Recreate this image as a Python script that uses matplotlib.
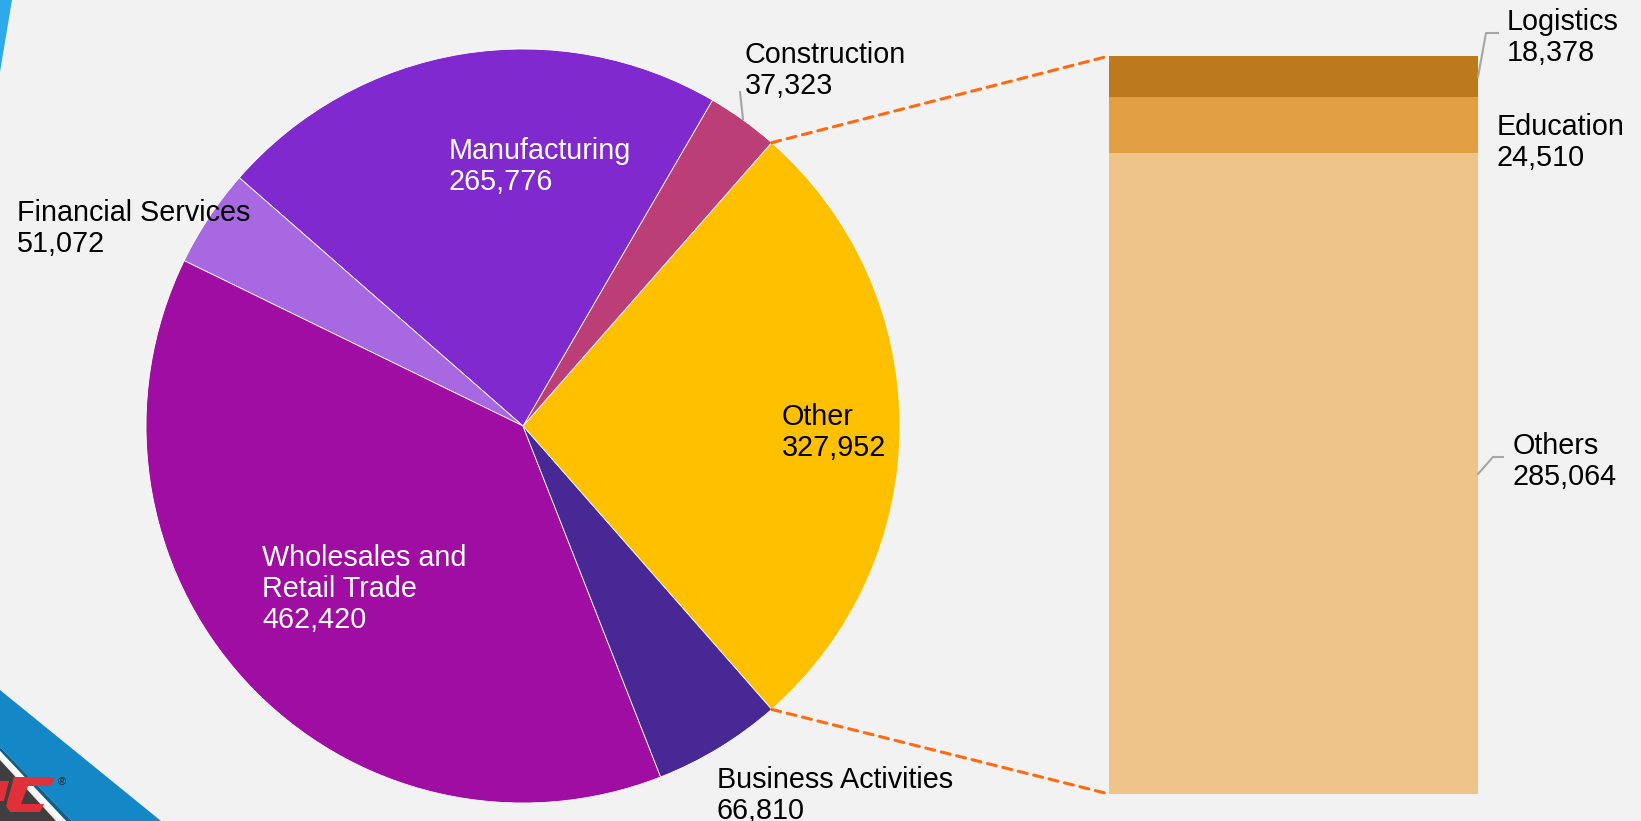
import numpy as np
import matplotlib
matplotlib.use("Agg")
import matplotlib.pyplot as plt
from matplotlib.patches import Polygon, ConnectionPatch

plt.rcParams['font.family'] = ['Liberation Sans', 'DejaVu Sans']

# pie data (counter-clockwise starting with "Other")
pie_labels = ['Other', 'Construction', 'Manufacturing', 'Financial Services',
              'Wholesales and\nRetail Trade', 'Business Activities']
pie_values = [327952, 37323, 265776, 51072, 462420, 66810]
pie_colors = ['#FFC000', '#BB3E76', '#7F29CF', '#A768E2', '#A00DA2', '#472894']

# breakdown of "Other" (bottom to top)
bar_labels = ['Others', 'Education', 'Logistics']
bar_values = [285064, 24510, 18378]
bar_colors = ['#EFC48B', '#E29E42', '#BD7A1C']

W, H = 1641, 821
BG = '#F2F2F2'
fig = plt.figure(figsize=(W / 100, H / 100), dpi=100, facecolor=BG)


def px_box(left, top, right, bottom):
    return [left / W, 1 - bottom / H, (right - left) / W, (bottom - top) / H]


# background decorations
deco = fig.add_axes([0, 0, 1, 1], zorder=0)
deco.set_xlim(0, W)
deco.set_ylim(H, 0)
deco.axis('off')
deco.add_patch(Polygon([(0, 0), (12, 0), (0, 72)], color='#2EAAEA', lw=0))
deco.add_patch(Polygon([(0, 690), (161, 821), (72, 821), (0, 747)], color='#1488C6', lw=0))
deco.add_patch(Polygon([(0, 747), (72, 821), (66, 821), (0, 751)], color='#0E5F8C', lw=0))
deco.add_patch(Polygon([(0, 751), (66, 821), (60, 821), (0, 756)], color='white', lw=0))
deco.add_patch(Polygon([(0, 760), (56, 821), (0, 821)], color='#3F3F3F', lw=0))
deco.add_patch(Polygon([(14, 777), (55, 777), (51, 786), (28, 786), (21, 804), (44, 804),
                        (40, 812), (10, 812), (6, 806)], color='#E0303A', lw=0))
deco.add_patch(Polygon([(0, 781), (9, 781), (4, 801), (0, 801)], color='#E0303A', lw=0))
deco.text(62, 782, '®', fontsize=8, ha='center', va='center', color='#222222')

# pie
cx, cy, r = 523, 426, 377
ax_pie = fig.add_axes(px_box(cx - r, cy - r, cx + r, cy + r), zorder=1)
half = 180.0 * pie_values[0] / sum(pie_values)
ax_pie.pie(pie_values, colors=pie_colors, startangle=-half, counterclock=True,
           radius=1, wedgeprops=dict(edgecolor='white', linewidth=0.6))
ax_pie.set_xlim(-1, 1)
ax_pie.set_ylim(-1, 1)
ax_pie.set_aspect('equal')
ax_pie.axis('off')

# stacked bar
ax_bar = fig.add_axes(px_box(1109, 56, 1478, 794), zorder=1)
bottoms = np.concatenate([[0], np.cumsum(bar_values)[:-1]])
ax_bar.bar([0.5] * len(bar_values), bar_values, bottom=bottoms, width=1,
           color=bar_colors, linewidth=0)
ax_bar.set_xlim(0, 1)
ax_bar.set_ylim(0, sum(bar_values))
ax_bar.axis('off')

# dashed connectors
for sign, ybar in [(1, sum(bar_values)), (-1, 0)]:
    a = np.deg2rad(sign * half)
    con = ConnectionPatch(xyA=(np.cos(a), np.sin(a)), coordsA=ax_pie.transData,
                          xyB=(0, ybar), coordsB=ax_bar.transData,
                          color='#FF6A10', lw=2.2, linestyle=(0, (3, 2.2)), zorder=3)
    fig.add_artist(con)

# labels overlay
ov = fig.add_axes([0, 0, 1, 1], zorder=5)
ov.set_xlim(0, W)
ov.set_ylim(H, 0)
ov.axis('off')
ov.patch.set_alpha(0)

fs = 20.7
# x of left edge, baseline of last line
pie_pos = [(782, 456, 'black'), (745, 94, 'black'), (449, 190, 'white'),
           (17, 252, 'black'), (262, 628, 'white'), (717, 819, 'black')]
for lab, val, (x, y, c) in zip(pie_labels, pie_values, pie_pos):
    ov.text(x, y, f'{lab}\n{val:,}', fontsize=fs, color=c, ha='left', va='baseline',
            linespacing=1.13)

bar_pos = [(1513, 485), (1497, 166), (1507, 61)]
for lab, val, (x, y) in zip(bar_labels, bar_values, bar_pos):
    ov.text(x, y, f'{lab}\n{val:,}', fontsize=fs, color='black', ha='left', va='baseline',
            linespacing=1.13)

# leader lines
lc = '#A6A6A6'
ov.plot([740, 743], [92, 119], color=lc, lw=1.5)
ov.plot([1478, 1486, 1498], [77, 33, 33], color=lc, lw=1.5)
ov.plot([1478, 1493, 1503], [474, 457, 457], color=lc, lw=1.5)

fig.savefig('out.png', dpi=100, facecolor=BG)
